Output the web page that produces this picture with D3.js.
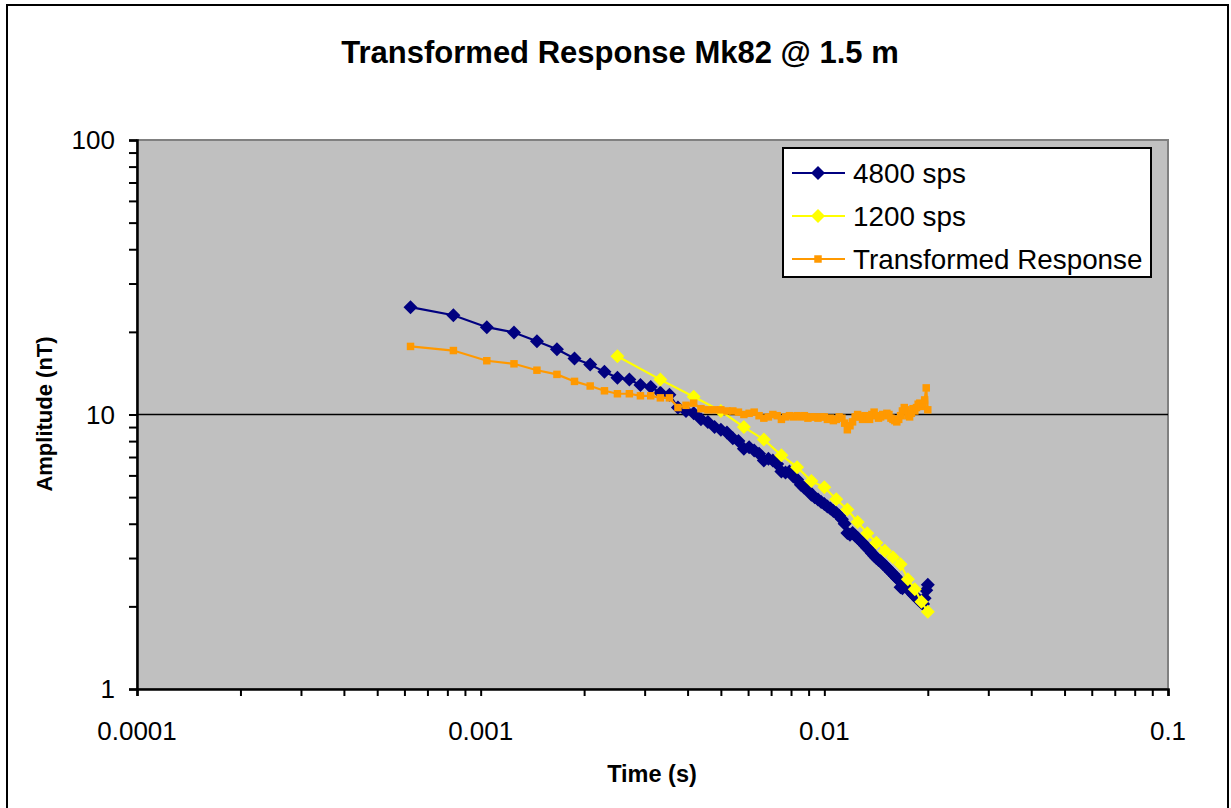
<!DOCTYPE html>
<html>
<head>
<meta charset="utf-8">
<script src="https://cdn.jsdelivr.net/npm/d3@7/dist/d3.min.js"></script>
<style>
  body { margin: 0; background: #fff; }
  svg text { font-family: Arial, "Liberation Sans", sans-serif; fill: #000; }
</style>
</head>
<body>
<svg id="chart" width="1231" height="808"></svg>
<script>
// sample times (s) for the 4800 sps record and the transformed response
var times4800 = [
  0.000625, 0.000833, 0.001042, 0.00125, 0.001458, 0.001667, 0.001875, 0.002083,
  0.002292, 0.0025, 0.002708, 0.002917, 0.003125, 0.003333, 0.003542, 0.00375,
  0.003958, 0.004167, 0.004375, 0.004583, 0.004792, 0.005, 0.005208, 0.005417,
  0.005625, 0.005833, 0.006042, 0.00625, 0.006458, 0.006667, 0.006875, 0.007083,
  0.007292, 0.0075, 0.007708, 0.007917, 0.008125, 0.008333, 0.008542, 0.00875,
  0.008958, 0.009167, 0.009375, 0.009583, 0.009792, 0.01, 0.010208, 0.010417,
  0.010625, 0.010833, 0.011042, 0.01125, 0.011458, 0.011667, 0.011875, 0.012083,
  0.012292, 0.0125, 0.012708, 0.012917, 0.013125, 0.013333, 0.013542, 0.01375,
  0.013958, 0.014167, 0.014375, 0.014583, 0.014792, 0.015, 0.015208, 0.015417,
  0.015625, 0.015833, 0.016042, 0.01625, 0.016458, 0.016667, 0.016875, 0.017083,
  0.017292, 0.0175, 0.017708, 0.017917, 0.018125, 0.018333, 0.018542, 0.01875,
  0.018958, 0.019167, 0.019375, 0.019583, 0.019792, 0.02
];

// amplitude (nT), 4800 sps
var amp4800 = [
  24.6, 23.0, 20.8, 19.9, 18.5, 17.3, 16.0, 15.2, 14.3, 13.6, 13.4, 12.8, 12.6, 12.0, 11.8, 10.6,
  10.3, 10.1, 9.6, 9.4, 9.0, 8.8, 8.6, 8.2, 8.0, 7.5, 7.6, 7.4, 7.2, 6.8, 6.9, 6.8,
  6.6, 6.2, 6.15, 6.2, 5.95, 5.8, 5.55, 5.4, 5.3, 5.1, 5.0, 4.9, 4.8, 4.72, 4.62, 4.55,
  4.45, 4.38, 4.28, 4.15, 4.0, 3.7, 3.65, 3.7, 3.62, 3.55, 3.48, 3.4, 3.33, 3.26, 3.2, 3.12,
  3.06, 3.0, 2.95, 2.92, 2.86, 2.81, 2.77, 2.72, 2.67, 2.63, 2.58, 2.53, 2.5, 2.35, 2.33, 2.38,
  2.36, 2.32, 2.29, 2.25, 2.21, 2.18, 2.15, 2.12, 2.09, 2.06, 2.04, 2.14, 2.29, 2.4
];

// sample times (s) and amplitude (nT), 1200 sps
var times1200 = [
  0.0025, 0.003333, 0.004167, 0.005, 0.005833, 0.006667, 0.0075, 0.008333,
  0.009167, 0.01, 0.010833, 0.011667, 0.0125, 0.013333, 0.014167, 0.015,
  0.015833, 0.016667, 0.0175, 0.018333, 0.019167, 0.02
];
var amp1200 = [
  16.3, 13.4, 11.6, 10.3, 9.0, 8.1, 7.1, 6.43, 5.72, 5.43, 4.91, 4.51, 4.06, 3.69, 3.41, 3.19,
  3.02, 2.85, 2.51, 2.31, 2.08, 1.91
];

// transformed response (nT), on the 4800 sps times
var ampTransformed = [
  17.7, 17.1, 15.7, 15.3, 14.5, 14.0, 13.2, 12.7, 12.2, 11.9, 11.9, 11.7, 11.7, 11.5, 11.5, 10.6,
  10.8, 11.0, 10.5, 10.4, 10.4, 10.4, 10.3, 10.3, 10.2, 10.0, 10.1, 10.2, 9.9, 9.7, 9.8, 10.0,
  9.9, 9.6, 9.8, 9.9, 9.8, 9.9, 9.8, 9.9, 9.7, 9.8, 9.8, 9.7, 9.8, 9.8, 9.6, 9.7,
  9.5, 9.6, 9.8, 9.7, 9.3, 8.8, 9.1, 9.4, 9.8, 10.0, 9.8, 9.6, 9.9, 9.8, 9.6, 10.0,
  10.2, 9.9, 9.7, 9.8, 10.0, 9.9, 10.1, 10.0, 9.7, 9.6, 9.5, 9.4, 9.6, 9.9, 10.3, 10.6,
  10.4, 9.9, 9.8, 10.1, 10.5, 10.3, 10.6, 10.9, 11.0, 10.7, 10.9, 11.3, 12.5, 10.4
];

var seriesNames = ["4800 sps", "1200 sps", "Transformed Response"];
var seriesColors = ["#000080", "#ffff00", "#ff9900"];
var seriesMarkers = ["diamond", "diamond", "square"];
var xTickValues = [0.0001, 0.001, 0.01, 0.1];
var xTickLabels = ["0.0001", "0.001", "0.01", "0.1"];
var yTickValues = [1, 10, 100];
var yTickLabels = ["1", "10", "100"];

var svg = d3.select("#chart"),
    plot = { left: 137, top: 140, right: 1168, bottom: 689 };

var x = d3.scaleLog().domain([0.0001, 0.1]).range([plot.left, plot.right]),
    y = d3.scaleLog().domain([1, 100]).range([plot.bottom, plot.top]);

/*
 * outer chart border (bottom edge runs off the picture) and plot background
 */
svg.append("rect")
    .attr("x", 7).attr("y", 5)
    .attr("width", 1221).attr("height", 812)
    .attr("fill", "#fff")
    .attr("stroke", "#000")
    .attr("stroke-width", 2);

svg.append("rect")
    .attr("x", plot.left).attr("y", plot.top)
    .attr("width", plot.right - plot.left)
    .attr("height", plot.bottom - plot.top)
    .attr("fill", "#c0c0c0")
    .attr("stroke", "#808080")
    .attr("stroke-width", 2);

// major gridline (only 10 sits inside the plot)
svg.append("g").selectAll("line")
    .data(yTickValues.slice(1, -1))
    .enter().append("line")
    .attr("x1", plot.left).attr("x2", plot.right)
    .attr("y1", function(d) { return y(d); })
    .attr("y2", function(d) { return y(d); })
    .attr("stroke", "#000")
    .attr("stroke-width", 1.5);

/*
 * axes: d3 axes for ticks, labels drawn separately
 */
var xMinor = x.ticks().filter(function(d) { return xTickValues.indexOf(d) < 0; }),
    yMinor = y.ticks().filter(function(d) { return yTickValues.indexOf(d) < 0; });

var xAxis = svg.append("g")
    .attr("transform", "translate(0," + plot.bottom + ")")
    .call(d3.axisBottom(x).tickValues(xTickValues.concat(xMinor)).tickSize(7).tickFormat(""));
var yAxis = svg.append("g")
    .attr("transform", "translate(" + plot.left + ",0)")
    .call(d3.axisLeft(y).tickValues(yTickValues.concat(yMinor)).tickSize(8).tickFormat(""));

[xAxis, yAxis].forEach(function(g) {
    g.select(".domain").attr("stroke", "#000").attr("stroke-width", 2.5);
    g.selectAll(".tick line").attr("stroke", "#000").attr("stroke-width", 2);
});

svg.append("g").selectAll("text")
    .data(xTickValues)
    .enter().append("text")
    .attr("x", function(d) { return x(d); })
    .attr("y", plot.bottom + 51)
    .attr("text-anchor", "middle")
    .style("font-size", "26px")
    .text(function(d, i) { return xTickLabels[i]; });

svg.append("g").selectAll("text")
    .data(yTickValues)
    .enter().append("text")
    .attr("x", plot.left - 22)
    .attr("y", function(d) { return y(d) + 9; })
    .attr("text-anchor", "end")
    .style("font-size", "26px")
    .text(function(d, i) { return yTickLabels[i]; });

/*
 * titles
 */
svg.append("text")
    .attr("x", 620).attr("y", 63)
    .attr("text-anchor", "middle")
    .style("font-size", "31px").style("font-weight", "bold")
    .text("Transformed Response Mk82 @ 1.5 m");

svg.append("text")
    .attr("x", 652).attr("y", 782)
    .attr("text-anchor", "middle")
    .style("font-size", "23.5px").style("font-weight", "bold")
    .text("Time (s)");

svg.append("text")
    .attr("transform", "translate(52,414) rotate(-90)")
    .attr("text-anchor", "middle")
    .style("font-size", "22px").style("font-weight", "bold")
    .text("Amplitude (nT)");

/*
 * series: line then markers, in series order
 */
var allSeries = [
    { t: times4800, v: amp4800 },
    { t: times1200, v: amp1200 },
    { t: times4800, v: ampTransformed }
];

var line = d3.line()
    .x(function(d) { return x(d[0]); })
    .y(function(d) { return y(d[1]); });

function markerPath(kind) {
    if (kind === "square") {
        return d3.symbol().type(d3.symbolSquare).size(56)();
    }
    return "M0,-7L7,0L0,7L-7,0Z";
}

allSeries.forEach(function(s, i) {
    var pts = s.t.map(function(t, j) { return [t, s.v[j]]; }),
        g = svg.append("g");
    g.append("path")
        .attr("d", line(pts))
        .attr("fill", "none")
        .attr("stroke", seriesColors[i])
        .attr("stroke-width", 2.2);
    g.selectAll("path.mark")
        .data(pts)
        .enter().append("path")
        .attr("class", "mark")
        .attr("transform", function(d) { return "translate(" + x(d[0]) + "," + y(d[1]) + ")"; })
        .attr("d", markerPath(seriesMarkers[i]))
        .attr("fill", seriesColors[i]);
});

/*
 * legend
 */
var legend = svg.append("g");
legend.append("rect")
    .attr("x", 783).attr("y", 148)
    .attr("width", 368).attr("height", 129)
    .attr("fill", "#fff")
    .attr("stroke", "#000")
    .attr("stroke-width", 2);

seriesNames.forEach(function(name, i) {
    var ly = 173 + i * 43;
    legend.append("line")
        .attr("x1", 792).attr("x2", 845)
        .attr("y1", ly).attr("y2", ly)
        .attr("stroke", seriesColors[i])
        .attr("stroke-width", 2.2);
    legend.append("path")
        .attr("transform", "translate(818," + ly + ")")
        .attr("d", markerPath(seriesMarkers[i]))
        .attr("fill", seriesColors[i]);
    legend.append("text")
        .attr("x", 853).attr("y", ly + 10)
        .style("font-size", "27.8px")
        .text(name);
});
</script>
</body>
</html>
